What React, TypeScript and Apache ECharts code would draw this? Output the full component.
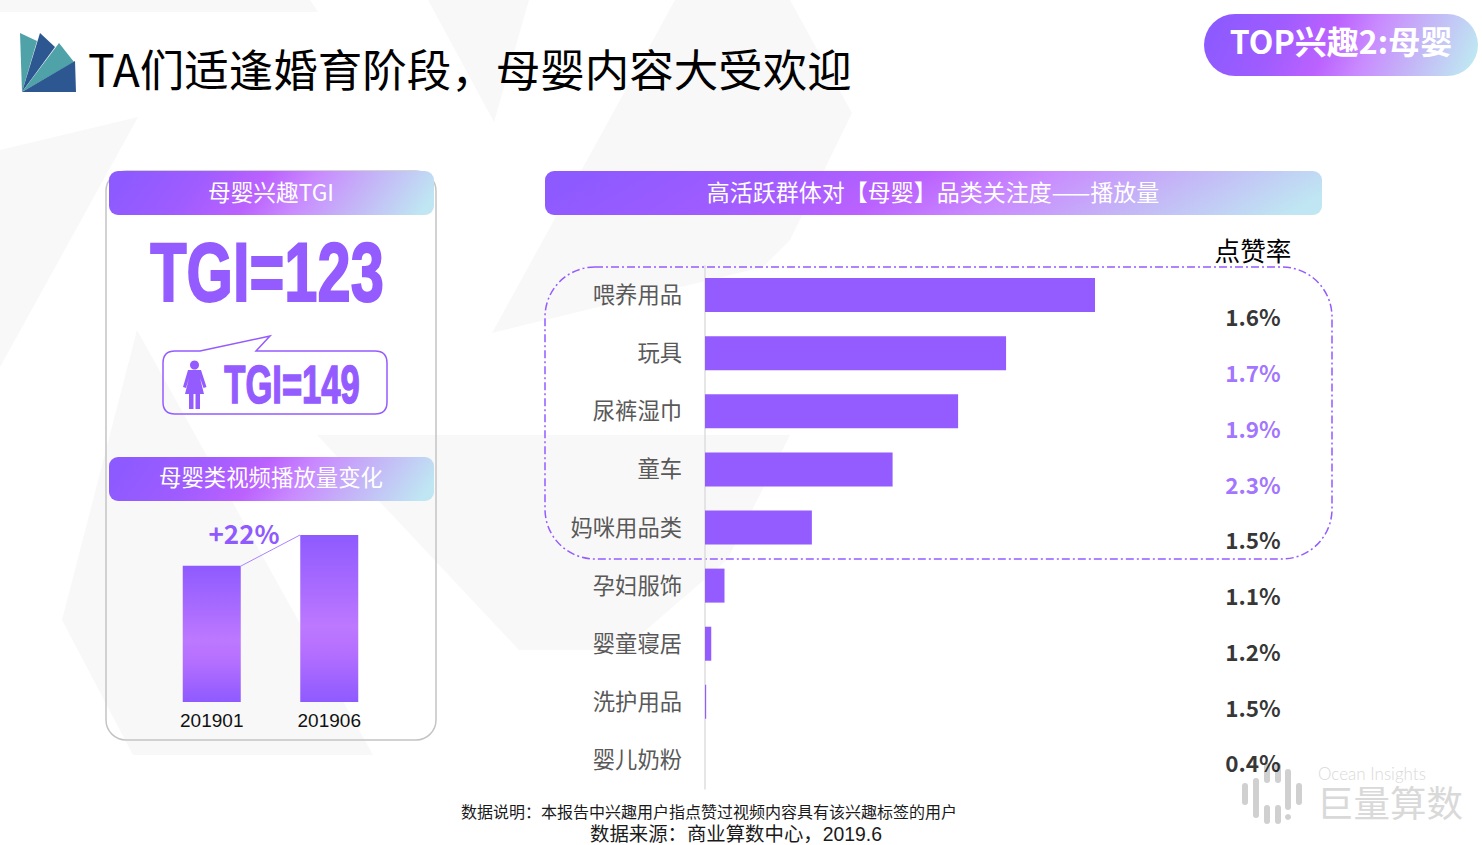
import React, { useEffect, useRef } from "react";
import * as echarts from "echarts";

const categories = ["喂养用品", "玩具", "尿裤湿巾", "童车", "妈咪用品类", "孕妇服饰", "婴童寝居", "洗护用品", "婴儿奶粉"];
const playValues = [100, 77.2, 64.9, 48.1, 27.4, 5, 1.6, 0.3, 0];
const likeRates = ["1.6%", "1.7%", "1.9%", "2.3%", "1.5%", "1.1%", "1.2%", "1.5%", "0.4%"];
const rateHighlighted = [false, true, true, true, false, false, false, false, false];
const months = ["201901", "201906"];
const monthValues = [100, 122.5];

const PURPLE = "#945bff";
const CJK = '"Noto Sans CJK SC", "Noto Sans", sans-serif';
const HEAVY = '"Liberation Sans", sans-serif';
const LATIN_FIRST = '"Liberation Sans", "Noto Sans CJK SC", sans-serif';

echarts.graphic.registerShape(
  "bubble",
  echarts.graphic.extendPath(
    "M175 351 L200 351 L270 336 L256 351 L375 351 Q387 351 387 363 L387 402 Q387 414 375 414 L175 414 Q163 414 163 402 L163 363 Q163 351 175 351 Z",
    {}
  )
);
echarts.graphic.registerShape(
  "woman",
  echarts.graphic.extendPath(
    "M188 370 L201 370 L206.5 387 L203.5 388 L200 378 L204 394 L200 394 L200 409 L195.5 409 L195.5 394 L193.5 394 L193.5 409 L189 409 L189 394 L185 394 L189 378 L186 388 L183 387 Z",
    {}
  )
);

const headerFill = () =>
  new echarts.graphic.LinearGradient(0, 0.45, 1, 0.55, [
    { offset: 0, color: "#8c5aff" },
    { offset: 0.25, color: "#9f5cff" },
    { offset: 0.45, color: "#bb62ff" },
    { offset: 0.6, color: "#c98aff" },
    { offset: 0.75, color: "#c5aef8" },
    { offset: 1, color: "#bfe6f2" },
  ]);

const poly = (points: number[][], fill: string) => ({ type: "polygon", shape: { points }, style: { fill } });
const text = (t: string, x: number, y: number, size: number, fill: string, extra: any = {}, el: any = {}) => ({
  type: "text",
  x,
  y,
  ...el,
  style: {
    text: t,
    fill,
    fontSize: size,
    fontFamily: CJK,
    textAlign: "center",
    textVerticalAlign: "middle",
    ...extra,
  },
});
const pill = (x: number, y: number, w: number, h: number, r: number) => ({
  type: "rect",
  shape: { x, y, width: w, height: h, r },
  style: { fill: headerFill() },
});
const mark = (x: number, y: number, h: number) => ({
  type: "rect",
  shape: { x: x - 3, y, width: 6, height: h, r: 3 },
  style: { fill: "#d0d0d0" },
});

const BG = "#f8f8f8";
const graphicElements: any[] = [
  poly([[0, 0], [310, 0], [318, 12], [0, 12]], BG),
  poly([[0, 150], [138, 117], [0, 367]], BG),
  poly([[428, 0], [529, 0], [494, 122]], BG),
  poly([[675, 0], [790, 0], [852, 113], [790, 240], [763, 267], [492, 333]], BG),
  poly([[137, 330], [373, 755], [133, 755], [62, 620]], BG),
  poly([[317, 435], [790, 435], [727, 560], [623, 650], [519, 650]], BG),

  poly([[20, 33], [37, 41], [22, 92]], "#4fa3a8"),
  poly([[40, 33], [55, 47], [22, 92]], "#2c5790"),
  poly([[59, 43], [74, 62], [22, 92]], "#4fa3a8"),
  poly([[75, 61], [76, 92], [22, 92]], "#2c5790"),
  text("TA们适逢婚育阶段，母婴内容大受欢迎", 88, 67, 44.5, "#000", { textAlign: "left" }),

  pill(1204, 14, 274, 62, 31),
  text("TOP兴趣2:母婴", 1341, 40, 32, "#fff", { fontWeight: "bold" }),

  {
    type: "rect",
    shape: { x: 106, y: 171, width: 330, height: 569, r: 20 },
    style: { fill: "none", stroke: "#c4c4c4", lineWidth: 1.5 },
  },
  pill(109, 171, 325, 44, 9),
  text("母婴兴趣TGI", 271, 191, 22.7, "#fff"),
  text("TGI=123", 267, 272, 84, PURPLE, { fontFamily: HEAVY, fontWeight: "bold", stroke: PURPLE, lineWidth: 2 }, { scaleX: 0.71 }),
  { type: "bubble", x: 0, y: 0, style: { fill: "none", stroke: PURPLE, lineWidth: 1.5 } },
  { type: "circle", shape: { cx: 194.5, cy: 365, r: 4.5 }, style: { fill: PURPLE } },
  { type: "woman", x: 0, y: 0, style: { fill: PURPLE } },
  text("TGI=149", 292, 385, 54, PURPLE, { fontFamily: HEAVY, fontWeight: "bold", stroke: PURPLE, lineWidth: 1.5 }, { scaleX: 0.64 }),
  pill(109, 457, 325, 44, 9),
  text("母婴类视频播放量变化", 271, 476, 22.4, "#fff"),
  text("+22%", 244, 532, 26, "#8f5bff", { fontWeight: "bold" }),
  { type: "line", shape: { x1: 241, y1: 566, x2: 300, y2: 535 }, style: { stroke: "#ab83ff", lineWidth: 1 } },

  pill(545, 171, 777, 44, 9),
  text("高活跃群体对【母婴】品类关注度——播放量", 933, 191, 23, "#fff"),
  text("点赞率", 1253, 249, 25.6, "#000"),
  {
    type: "rect",
    shape: { x: 545, y: 267, width: 787, height: 292, r: 50 },
    style: { fill: "none", stroke: PURPLE, lineWidth: 1.5, lineDash: [8, 3, 2, 3] },
  },

  text("数据说明：本报告中兴趣用户指点赞过视频内容具有该兴趣标签的用户", 709, 811, 16, "#1a1a1a"),
  text("数据来源：商业算数中心，2019.6", 736, 834, 19.4, "#1a1a1a", { fontFamily: LATIN_FIRST }),

  mark(1245, 783, 22),
  mark(1256, 778, 40),
  mark(1267, 763, 20),
  mark(1267, 805, 19),
  mark(1278, 763, 20),
  mark(1278, 805, 19),
  mark(1288, 769, 41),
  { type: "circle", shape: { cx: 1288, cy: 817, r: 3 }, style: { fill: "#d0d0d0" } },
  mark(1299, 783, 22),
  text("Ocean Insights", 1318, 773, 17, "#d9d9d9", { textAlign: "left", fontFamily: '"Lato", sans-serif', fontWeight: 300 }),
  text("巨量算数", 1390, 804, 36.5, "#d9d9d9", { fontFamily: LATIN_FIRST }),
];

export default function App() {
  const ref = useRef<HTMLDivElement>(null);
  useEffect(() => {
    const chart = echarts.init(ref.current!, undefined, { renderer: "svg" });
    chart.setOption({
      animation: false,
      backgroundColor: "#ffffff",
      graphic: { elements: graphicElements },
      grid: [
        { left: 705, top: 266, width: 390, height: 523 },
        { left: 153, top: 535, width: 235, height: 167 },
        { left: 1226, top: 288.3, width: 54, height: 502 },
      ],
      xAxis: [
        { gridIndex: 0, type: "value", min: 0, max: 100, show: false },
        {
          gridIndex: 1,
          type: "category",
          data: months,
          axisLine: { show: false },
          axisTick: { show: false },
          axisLabel: { color: "#111", fontSize: 19, margin: 9, fontFamily: HEAVY },
        },
        { gridIndex: 2, type: "value", min: 0, max: 2, show: false },
      ],
      yAxis: [
        {
          gridIndex: 0,
          type: "category",
          inverse: true,
          data: categories,
          axisLine: { show: true, lineStyle: { color: "#dedede", width: 1.5 } },
          axisTick: { show: false },
          axisLabel: {
            margin: 23,
            formatter: "{a|{value}}",
            rich: {
              a: { color: "#595959", fontSize: 22.3, fontFamily: CJK, padding: [0, 0, 4, 0] },
            },
          },
        },
        { gridIndex: 1, type: "value", min: 0, max: 122.5, show: false },
        { gridIndex: 2, type: "category", inverse: true, data: categories, show: false },
      ],
      series: [
        {
          type: "bar",
          xAxisIndex: 0,
          yAxisIndex: 0,
          data: playValues,
          barWidth: 34,
          itemStyle: { color: PURPLE },
        },
        {
          type: "bar",
          xAxisIndex: 1,
          yAxisIndex: 1,
          data: monthValues,
          barWidth: 58,
          itemStyle: {
            color: new echarts.graphic.LinearGradient(0, 0, 0, 1, [
              { offset: 0, color: "#8e5aff" },
              { offset: 0.55, color: "#bd78ff" },
              { offset: 0.7, color: "#b56fff" },
              { offset: 1, color: "#8e5aff" },
            ]),
          },
        },
        {
          type: "scatter",
          xAxisIndex: 2,
          yAxisIndex: 2,
          symbolSize: 1,
          itemStyle: { color: "transparent" },
          data: likeRates.map((r, i) => ({
            value: [1, categories[i]],
            label: {
              show: true,
              position: "inside",
              formatter: r,
              color: rateHighlighted[i] ? "#8a50ff" : "#000",
              fontSize: 22.5,
              fontWeight: "bold",
              fontFamily: CJK,
            },
          })),
        },
      ],
    });
    return () => chart.dispose();
  }, []);
  return <div ref={ref} style={{ position: "fixed", left: 0, top: 0, width: 1482, height: 845 }} />;
}
